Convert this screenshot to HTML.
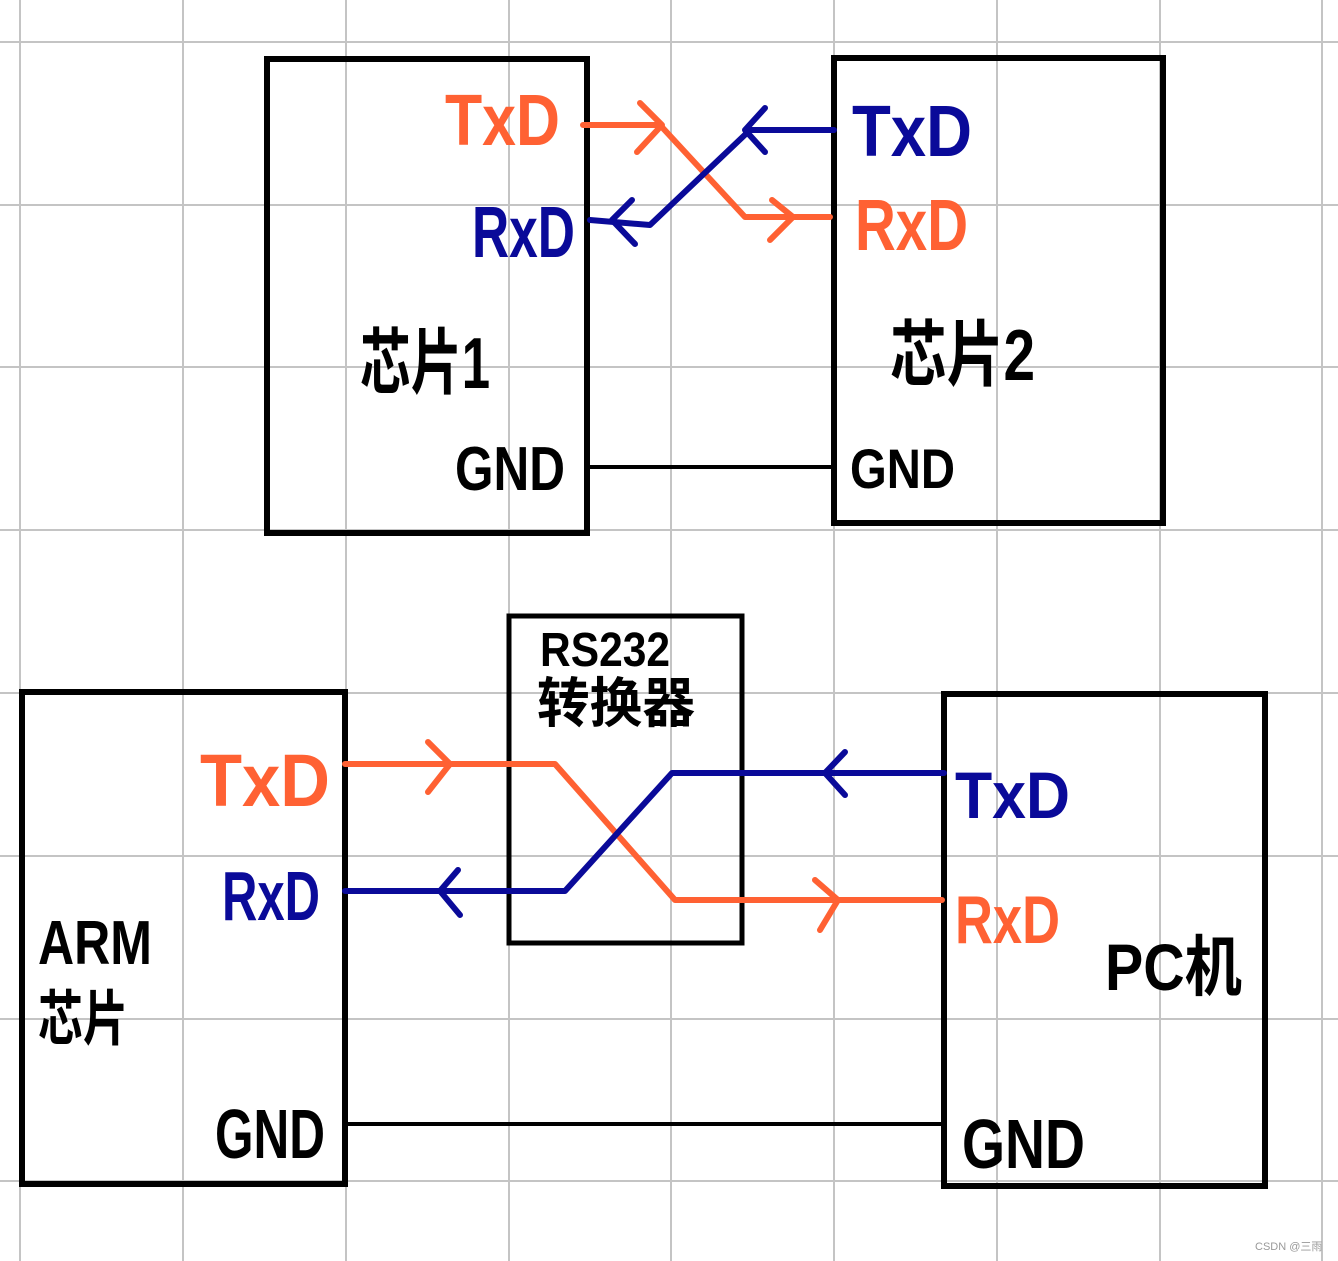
<!DOCTYPE html>
<html><head><meta charset="utf-8"><style>html,body{margin:0;padding:0;background:#fff}svg{display:block}</style></head>
<body>
<svg width="1338" height="1261" viewBox="0 0 1338 1261" xmlns="http://www.w3.org/2000/svg">
<g stroke="#c4c4c4" stroke-width="2">
<line x1="20" y1="0" x2="20" y2="1261"/><line x1="183" y1="0" x2="183" y2="1261"/><line x1="346" y1="0" x2="346" y2="1261"/><line x1="509" y1="0" x2="509" y2="1261"/><line x1="671" y1="0" x2="671" y2="1261"/><line x1="834" y1="0" x2="834" y2="1261"/><line x1="997" y1="0" x2="997" y2="1261"/><line x1="1160" y1="0" x2="1160" y2="1261"/><line x1="1322" y1="0" x2="1322" y2="1261"/>
<line x1="0" y1="42" x2="1338" y2="42"/><line x1="0" y1="205" x2="1338" y2="205"/><line x1="0" y1="367" x2="1338" y2="367"/><line x1="0" y1="530" x2="1338" y2="530"/><line x1="0" y1="693" x2="1338" y2="693"/><line x1="0" y1="856" x2="1338" y2="856"/><line x1="0" y1="1019" x2="1338" y2="1019"/><line x1="0" y1="1181" x2="1338" y2="1181"/>
</g>
<g fill="none" stroke="#000" stroke-width="6" stroke-linecap="round">
<rect x="267" y="59" width="320" height="474"/>
<rect x="834" y="58" width="329" height="465"/>
<rect x="22" y="692" width="323" height="492"/>
<rect x="509" y="616" width="233" height="327" stroke-width="5"/>
<rect x="944" y="694" width="321" height="492"/>
</g>
<g stroke="#000" stroke-width="4"><line x1="590" y1="467" x2="832" y2="467"/><line x1="345" y1="1124" x2="944" y2="1124"/></g>
<g fill="none" stroke="#ff6133" stroke-width="6" stroke-linecap="round" stroke-linejoin="round">
<polyline points="583,125 660,125 745,217 830,217"/>
<polyline points="640,103 662,125 637,152"/><polyline points="772,200 793,217 770,240"/>
<polyline points="345,764 555,764 675,900 942,900"/>
<polyline points="428,742 450,764 428,792"/><polyline points="815,880 838,900 820,930"/>
</g>
<g fill="none" stroke="#0a0a99" stroke-width="6" stroke-linecap="round" stroke-linejoin="round">
<polyline points="834,130 750,130 650,225 590,220"/>
<polyline points="765,108 745,130 765,152"/><polyline points="632,200 612,220 635,244"/>
<polyline points="944,773 672,773 565,891 345,891"/>
<polyline points="845,752 825,773 845,795"/><polyline points="458,870 440,891 460,915"/>
</g>
<g font-family="Liberation Sans, 'Noto Sans CJK SC', sans-serif" font-weight="bold">
<text x="445" y="145" font-size="72" fill="#ff6133" textLength="115" lengthAdjust="spacingAndGlyphs">TxD</text>
<text x="472" y="257" font-size="72" fill="#0a0a99" textLength="103" lengthAdjust="spacingAndGlyphs">RxD</text>
<text x="852" y="156" font-size="72" fill="#0a0a99" textLength="120" lengthAdjust="spacingAndGlyphs">TxD</text>
<text x="855" y="250" font-size="72" fill="#ff6133" textLength="113" lengthAdjust="spacingAndGlyphs">RxD</text>
<text x="360" y="388" font-size="72" fill="#000" textLength="130" lengthAdjust="spacingAndGlyphs">芯片1</text>
<text x="890" y="380" font-size="72" fill="#000" textLength="145" lengthAdjust="spacingAndGlyphs">芯片2</text>
<text x="455" y="490" font-size="62" fill="#000" textLength="110" lengthAdjust="spacingAndGlyphs">GND</text>
<text x="850" y="488" font-size="56" fill="#000" textLength="105" lengthAdjust="spacingAndGlyphs">GND</text>
<text x="200" y="806" font-size="74" fill="#ff6133" textLength="130" lengthAdjust="spacingAndGlyphs">TxD</text>
<text x="222" y="920" font-size="70" fill="#0a0a99" textLength="98" lengthAdjust="spacingAndGlyphs">RxD</text>
<text x="38" y="964" font-size="62" fill="#000" textLength="114" lengthAdjust="spacingAndGlyphs">ARM</text>
<text x="38" y="1040" font-size="60" fill="#000" textLength="90" lengthAdjust="spacingAndGlyphs">芯片</text>
<text x="215" y="1158" font-size="70" fill="#000" textLength="110" lengthAdjust="spacingAndGlyphs">GND</text>
<text x="540" y="666" font-size="48" fill="#000" textLength="130" lengthAdjust="spacingAndGlyphs">RS232</text>
<text x="537" y="722" font-size="54" fill="#000" textLength="158" lengthAdjust="spacingAndGlyphs">转换器</text>
<text x="955" y="818" font-size="66" fill="#0a0a99" textLength="115" lengthAdjust="spacingAndGlyphs">TxD</text>
<text x="955" y="943" font-size="68" fill="#ff6133" textLength="105" lengthAdjust="spacingAndGlyphs">RxD</text>
<text x="1105" y="990" font-size="66" fill="#000" textLength="137" lengthAdjust="spacingAndGlyphs">PC机</text>
<text x="962" y="1168" font-size="70" fill="#000" textLength="123" lengthAdjust="spacingAndGlyphs">GND</text>
<text x="1255" y="1250" font-size="11" font-weight="normal" fill="#999">CSDN @三雨</text>
</g>
</svg>
</body></html>
